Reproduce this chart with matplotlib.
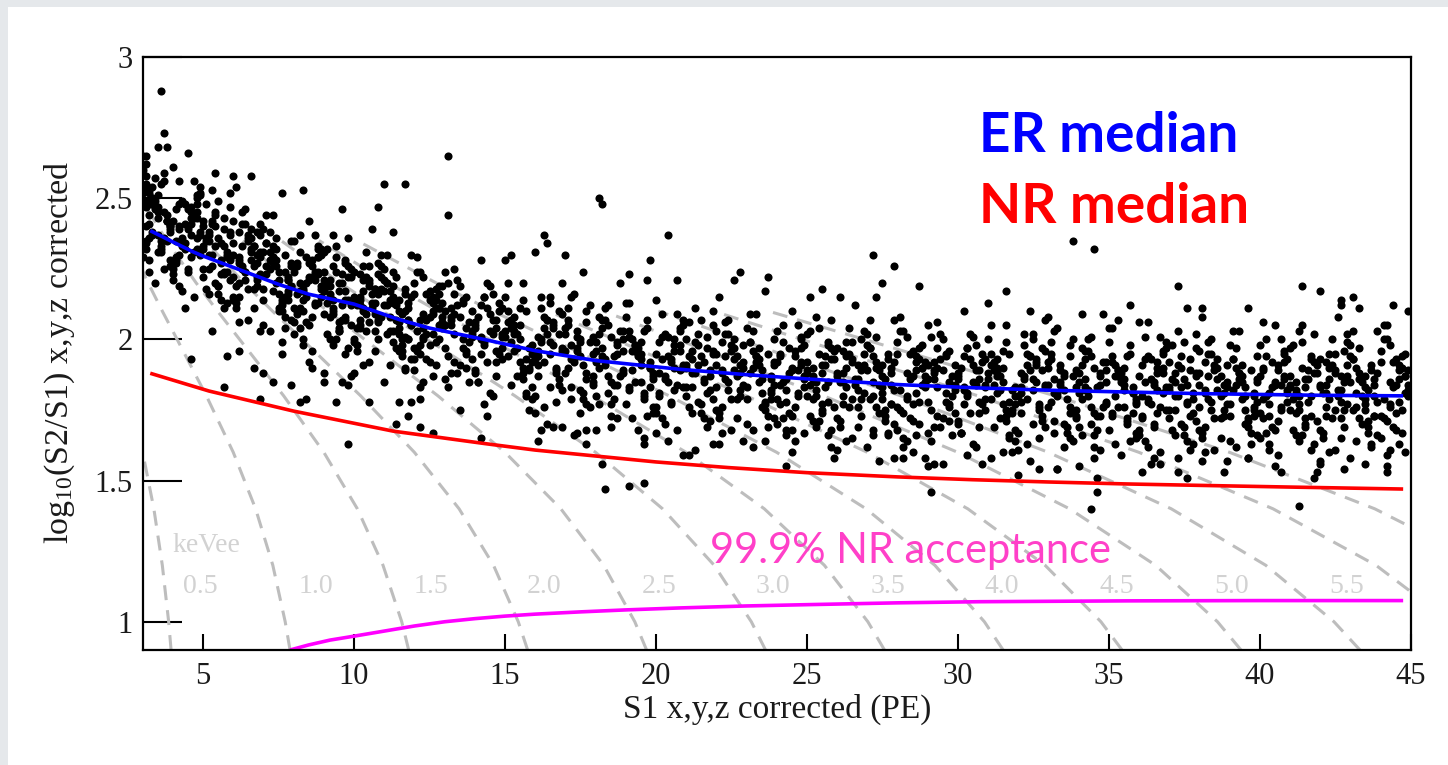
import matplotlib
matplotlib.use("Agg")
import matplotlib.pyplot as plt
from matplotlib.patches import Rectangle

plt.rcParams['font.family'] = ['Liberation Serif', 'DejaVu Serif']
plt.rcParams['mathtext.fontset'] = 'custom'
plt.rcParams['mathtext.rm'] = 'Liberation Serif'
plt.rcParams['mathtext.it'] = 'Liberation Serif:italic'
plt.rcParams['mathtext.bf'] = 'Liberation Serif:bold'

# ---------------- axis ticks ----------------
x_ticks = [5, 10, 15, 20, 25, 30, 35, 40, 45]
x_tick_labels = ['5', '10', '15', '20', '25', '30', '35', '40', '45']
y_ticks = [1, 1.5, 2, 2.5, 3]
y_tick_labels = ['1', '1.5', '2', '2.5', '3']

# ---------------- median / acceptance curves ----------------
er_median_s1 = [3.25, 4.0, 4.67, 5.0, 6.0, 6.5, 7.5, 8.5, 10.0, 11.5, 12.5, 14.3, 16.0, 18.0,
                20.8, 23.0, 25.0, 28.0, 30.7, 33.0, 35.0, 38.0, 40.0, 42.0, 44.75]
er_median_logratio = [2.385, 2.345, 2.31, 2.295, 2.255, 2.235, 2.195, 2.16, 2.125, 2.07, 2.04, 2.0,
                      1.96, 1.925, 1.894, 1.875, 1.86, 1.84, 1.828, 1.82, 1.815, 1.808, 1.805, 1.802, 1.80]

nr_median_s1 = [3.25, 5.2, 8.0, 11.3, 14.4, 16.0, 18.0, 20.0, 22.4, 25.0, 28.0, 30.5, 33.0, 35.6, 38.0, 41.0, 44.75]
nr_median_logratio = [1.88, 1.817, 1.746, 1.675, 1.630, 1.608, 1.587, 1.566, 1.546, 1.528, 1.513, 1.503,
                      1.495, 1.488, 1.483, 1.477, 1.470]

nr_accept_s1 = [7.88, 8.5, 9.2, 10.0, 11.0, 12.0, 13.0, 14.0, 15.0, 16.0, 17.5, 19.0, 20.8, 23.0,
                25.2, 28.0, 30.7, 35.6, 40.0, 44.75]
nr_accept_logratio = [0.90, 0.918, 0.935, 0.949, 0.967, 0.985, 1.0, 1.011, 1.02, 1.027, 1.035, 1.042,
                      1.049, 1.056, 1.061, 1.067, 1.071, 1.074, 1.075, 1.075]

# ---------------- constant-energy (keVee) contours ----------------
contour_logratio = [0.9, 1.0, 1.2, 1.4, 1.6, 1.8, 2.0, 2.1, 2.2, 2.35, 2.5]
contour_kevee = [0.5, 1.0, 1.5, 2.0, 2.5, 3.0, 3.5, 4.0, 4.5, 5.0, 5.5, 6.0, 6.5]
contour_s1 = [
    [3.94, 3.86, 3.65, 3.37, 3.00, 2.56, 2.07, None, None, None, None],
    [7.88, 7.72, 7.31, 6.74, 6.00, 5.11, 4.14, 3.65, 3.18, 2.53, None],
    [11.81, 11.58, 10.96, 10.11, 9.00, 7.67, 6.21, 5.48, 4.77, 3.79, 2.94],
    [15.75, 15.44, 14.62, 13.48, 12.00, 10.22, 8.28, 7.30, 6.36, 5.05, None],
    [19.69, 19.30, 18.27, 16.85, 15.00, 12.78, 10.35, 9.13, 7.95, 6.32, None],
    [23.63, 23.16, 21.93, 20.22, 18.00, 15.33, 12.42, 10.95, 9.54, 7.58, None],
    [27.57, 27.02, 25.58, 23.59, 21.00, 17.89, 14.49, 12.78, 11.13, 8.84, None],
    [31.50, 30.88, 29.24, 26.96, 24.00, 20.44, 16.56, 14.60, 12.72, 10.10, None],
    [35.44, 34.74, 32.89, 30.33, 27.00, 23.00, 18.63, 16.43, None, None, None],
    [39.38, 38.60, 36.55, 33.70, 30.00, 25.56, 20.70, 18.26, None, None, None],
    [43.32, 42.46, 40.20, 37.07, 33.00, 28.11, 22.76, 20.08, None, None, None],
    [47.26, 46.32, 43.85, 40.44, 36.00, 30.67, 24.83, 21.91, None, None, None],
    [51.19, 50.18, 47.51, 43.81, 39.00, 33.22, 26.90, 23.73, None, None, None],
]
label_kevee = ['0.5', '1.0', '1.5', '2.0', '2.5', '3.0', '3.5', '4.0', '4.5', '5.0', '5.5']
label_kevee_s1 = [4.90, 8.74, 12.55, 16.29, 20.10, 23.87, 27.68, 31.45, 35.26, 39.07, 42.88]

# ---------------- events: (S1 in 0.1 PE, log10(S2/S1) in 0.01) ----------------
events_low = [
    (31,234),(34,246),(37,256),(32,241),(39,226),(35,251),(30,265),(33,237),(38,244),(36,232),(32,248),(37,259),(34,220),(31,253),(39,239),(35,243),(33,250),(30,229),(36,255),(38,242),(32,224),(35,247),(37,273),(31,235),(34,249),(39,238),
    (46,237),(42,248),(49,230),(44,241),(40,223),(47,256),(43,234),(48,245),(41,227),(45,239),(49,252),(42,219),(46,243),(44,232),(40,261),(48,236),(43,249),(47,215),(41,246),(45,225),(42,240),(49,254),(46,229),(40,242),(44,211),(48,250),
    (56,227),(52,238),(59,247),(54,220),(50,232),(57,211),(53,241),(58,229),(51,236),(55,216),(59,252),(52,225),(56,234),(54,244),(50,222),(58,231),(53,203),(57,239),(51,218),(55,249),(52,230),(59,237),(56,214),(50,242),(54,233),(58,224),
    (66,236),(62,215),(69,229),(64,241),(60,222),(67,211),(63,233),(68,227),(61,254),(65,218),(69,231),(62,206),(66,239),(64,224),(60,234),(68,219),(63,245),(67,226),(61,213),(65,237),(62,228),(69,203),(66,232),(60,242),(64,221),(68,230),
    (76,213),(72,225),(79,235),(74,220),(70,205),(77,230),(73,244),(78,216),(71,223),(75,211),(79,227),(72,238),(76,199),(74,232),(70,218),(78,222),(73,229),(77,208),(71,234),(75,221),(72,203),(79,226),(76,252),(70,214),(74,228),(78,217),
    (83,218),(88,229),(80,211),(85,222),(82,204),(87,237),(89,215),(81,226),(86,208),(84,220),(88,233),(83,200),(80,224),(87,213),(85,242),(82,217),(89,230),(86,196),(81,227),(84,206),(87,221),(80,235),(83,210),(88,223),(85,192),(82,231),
    (93,211),(98,222),(90,231),(95,204),(92,216),(97,195),(99,225),(91,213),(96,220),(94,200),(98,236),(93,209),(90,218),(97,228),(95,206),(92,215),(99,187),(96,223),(91,202),(94,233),(97,214),(90,221),(93,198),(98,226),(95,217),(92,208),
    (103,221),(108,200),(100,214),(105,226),(102,207),(107,196),(109,218),(101,212),(106,239),(104,203),(108,216),(103,191),(100,224),(107,209),(105,219),(102,204),(109,230),(106,211),(101,198),(104,222),(107,213),(100,188),(103,217),(108,227),(105,206),(102,215),
    (113,199),(118,211),(110,221),(115,206),(112,191),(117,216),(119,230),(111,202),(116,209),(114,197),(118,213),(113,224),(110,185),(117,218),(115,204),(112,208),(119,215),(116,194),(111,220),(114,207),(117,189),(110,212),(113,238),(118,200),(115,214),(112,203),
    (128,205),(120,216),(125,198),(123,209),(127,191),(121,224),(126,202),(129,213),(122,195),(124,207),(120,220),(126,187),(128,211),(123,200),(121,229),(129,204),(125,217),(122,183),(127,214),(124,193),(129,208),(123,222),(120,197),(126,210),(122,179),(127,218),
    (138,199),(130,210),(135,219),(133,192),(137,204),(131,183),(136,213),(139,201),(132,208),(134,188),(130,224),(136,197),(138,206),(133,216),(131,194),(139,203),(135,175),(132,211),(137,190),(134,221),(139,202),(133,209),(130,186),(136,214),(132,205),(137,196),
    (148,210),(140,189),(145,203),(143,215),(147,196),(141,185),(146,207),(149,201),(142,228),(144,192),(140,205),(146,180),(148,213),(143,198),(141,208),(149,193),(145,219),(142,200),(147,187),(144,211),(149,202),(143,177),(140,206),(146,216),(142,195),(147,204),
]
events_dense_core = [
    (37,245),(33,238),(30,252),(35,231),(32,249),(38,242),(34,257),(36,235),(31,247),(39,240),(33,254),(37,236),
    (42,239),(48,232),(45,246),(40,225),(47,243),(43,236),(49,251),(41,229),(46,241),(44,234),(48,248),(42,230),
    (57,233),(53,226),(50,240),(55,219),(52,237),(58,230),(54,245),(56,223),(51,235),(59,228),(53,242),(57,224),
    (62,229),(68,222),(65,236),(60,215),(67,233),(63,226),(69,241),(61,219),(66,231),(64,224),(68,238),(62,220),
    (77,224),(73,217),(70,231),(75,210),(72,228),(78,221),(74,236),(76,214),(71,226),(79,219),(73,233),(77,215),
    (82,220),(88,213),(85,227),(80,206),(87,224),(83,217),(89,232),(81,210),(86,222),(84,215),(88,229),(82,211),
    (97,217),(93,210),(90,224),(95,203),(92,221),(98,214),(94,229),(96,207),(91,219),(99,212),(93,226),(97,208),
    (102,214),(108,207),(105,221),(100,200),(107,218),(103,211),(109,226),(101,204),(106,216),(104,209),(108,223),(102,205),
    (117,210),(113,203),(110,217),(115,196),(112,214),(118,207),(114,222),(116,200),(111,212),(119,205),(113,219),(117,201),
    (122,207),(128,200),(125,214),(120,193),(127,211),(123,204),(129,219),(121,197),(126,209),(124,202),(128,216),(122,198),
]
events_mid = [
    (158,189),(150,201),(155,211),(153,196),(157,181),(151,206),(156,220),(159,192),(152,199),(154,187),(150,203),(156,214),(158,175),(153,208),(151,194),(159,198),(155,205),(152,184),(157,210),(154,197),(159,179),(153,202),(150,228),(156,190),(152,204),(157,193),
    (161,196),(164,207),(167,189),(162,200),(169,182),(165,215),(160,193),(163,204),(168,186),(166,198),(162,211),(167,178),(164,202),(161,191),(169,220),(165,195),(163,208),(160,174),(166,205),(168,184),(162,199),(165,213),(167,188),(161,201),(164,170),(169,209),
    (171,190),(174,201),(177,210),(172,183),(179,195),(175,174),(170,204),(173,192),(178,199),(176,179),(172,215),(177,188),(174,197),(171,207),(179,185),(175,194),(173,166),(170,202),(176,181),(178,212),(172,193),(175,200),(177,177),(171,205),(174,196),(179,187),
    (181,202),(184,181),(187,195),(182,207),(189,188),(185,177),(180,199),(183,193),(188,220),(186,184),(182,197),(187,172),(184,205),(181,190),(189,200),(185,185),(183,211),(180,192),(186,179),(188,203),(182,194),(185,169),(187,198),(181,208),(184,187),(189,196),
    (191,182),(194,194),(197,204),(192,189),(199,174),(195,199),(190,213),(193,185),(198,192),(196,180),(192,196),(197,207),(194,168),(191,201),(199,187),(195,191),(193,198),(190,177),(196,203),(198,190),(192,172),(195,195),(197,221),(191,183),(194,197),(199,186),
    (206,190),(202,201),(209,183),(204,194),(200,176),(207,209),(203,187),(208,198),(201,180),(205,192),(209,205),(202,172),(206,196),(204,185),(200,214),(208,189),(203,202),(207,168),(201,199),(205,178),(202,193),(209,207),(206,182),(200,195),(204,164),(208,203),
    (216,185),(212,196),(219,205),(214,178),(210,190),(217,169),(213,199),(218,187),(211,194),(215,174),(219,210),(212,183),(216,192),(214,202),(210,180),(218,189),(213,161),(217,197),(211,176),(215,207),(212,188),(219,195),(216,172),(210,200),(214,191),(218,182),
    (226,197),(222,176),(229,190),(224,202),(220,183),(227,172),(223,194),(228,188),(221,215),(225,179),(229,192),(222,167),(226,200),(224,185),(220,195),(228,180),(223,206),(227,187),(221,174),(225,198),(222,189),(229,164),(226,193),(220,203),(224,182),(228,191),
    (236,178),(232,190),(239,200),(234,185),(230,170),(237,195),(233,209),(238,181),(231,188),(235,176),(239,192),(232,203),(236,164),(234,197),(230,183),(238,187),(233,194),(237,173),(231,199),(235,186),(232,168),(239,191),(236,217),(230,179),(234,193),(238,182),
    (243,186),(248,197),(240,179),(245,190),(242,172),(247,205),(249,183),(241,194),(246,176),(244,188),(248,201),(243,168),(240,192),(247,181),(245,210),(242,185),(249,198),(246,164),(241,195),(244,174),(247,189),(240,203),(243,178),(248,191),(245,160),(242,199),
    (253,182),(258,193),(250,202),(255,175),(252,187),(257,166),(259,196),(251,184),(256,191),(254,171),(258,207),(253,180),(250,189),(257,199),(255,177),(252,186),(259,158),(256,194),(251,173),(254,204),(257,185),(250,192),(253,169),(258,197),(255,188),(252,179),
    (263,194),(268,173),(260,187),(265,199),(262,180),(267,169),(269,191),(261,185),(266,212),(264,176),(268,189),(263,164),(260,197),(267,182),(265,192),(262,177),(269,203),(266,184),(261,171),(264,195),(267,186),(260,161),(263,190),(268,200),(265,179),(262,188),
    (273,176),(278,188),(270,198),(275,183),(272,168),(277,193),(279,207),(271,179),(276,186),(274,174),(278,190),(273,201),(270,162),(277,195),(275,181),(272,185),(279,192),(276,171),(271,197),(274,184),(277,166),(270,189),(273,215),(278,177),(275,191),(272,180),
    (288,184),(280,195),(285,177),(283,188),(287,170),(281,203),(286,181),(289,192),(282,174),(284,186),(280,199),(286,166),(288,190),(283,179),(281,208),(289,183),(285,196),(282,162),(287,193),(284,172),(289,187),(283,201),(280,176),(286,189),(282,158),(287,197),
    (298,180),(290,191),(295,200),(293,173),(297,185),(291,164),(296,194),(299,182),(292,189),(294,169),(290,205),(296,178),(298,187),(293,197),(291,175),(299,184),(295,156),(292,192),(297,171),(294,202),(299,183),(293,190),(290,167),(296,195),(292,186),(297,177),
]
events_high = [
    (308,192),(300,171),(305,185),(303,197),(307,178),(301,167),(306,189),(309,183),(302,210),(304,174),(300,187),(306,162),(308,195),(303,180),(301,190),(309,175),(305,201),(302,182),(307,169),(304,193),(309,184),(303,159),(300,188),(306,198),(302,177),(307,186),
    (318,174),(310,186),(315,196),(313,181),(317,166),(311,191),(316,205),(319,177),(312,184),(314,172),(310,188),(316,199),(318,160),(313,193),(311,179),(319,183),(315,190),(312,169),(317,195),(314,182),(319,164),(313,187),(310,213),(316,175),(312,189),(317,178),
    (321,183),(324,194),(327,176),(322,187),(329,169),(325,202),(320,180),(323,191),(328,173),(326,185),(322,198),(327,165),(324,189),(321,178),(329,207),(325,182),(323,195),(320,161),(326,192),(328,171),(322,186),(325,200),(327,175),(321,188),(324,157),(329,196),
    (331,178),(334,189),(337,198),(332,171),(339,183),(335,162),(330,192),(333,180),(338,187),(336,167),(332,203),(337,176),(334,185),(331,195),(339,173),(335,182),(333,154),(330,190),(336,169),(338,200),(332,181),(335,188),(337,165),(331,193),(334,184),(339,175),
    (341,191),(344,170),(347,184),(342,196),(349,177),(345,166),(340,188),(343,182),(348,209),(346,173),(342,186),(347,161),(344,194),(341,179),(349,189),(345,174),(343,200),(340,181),(346,168),(348,192),(342,183),(345,158),(347,187),(341,197),(344,176),(349,185),
    (351,173),(354,185),(357,195),(352,180),(359,165),(355,190),(350,204),(353,176),(358,183),(356,171),(352,187),(357,198),(354,159),(351,192),(359,178),(355,182),(353,189),(350,168),(356,194),(358,181),(352,163),(355,186),(357,212),(351,174),(354,188),(359,177),
    (366,182),(362,193),(369,175),(364,186),(360,168),(367,201),(363,179),(368,190),(361,172),(365,184),(369,197),(362,164),(366,188),(364,177),(360,206),(368,181),(363,194),(367,160),(361,191),(365,170),(362,185),(369,199),(366,174),(360,187),(364,156),(368,195),
    (376,177),(372,188),(379,197),(374,170),(370,182),(377,161),(373,191),(378,179),(371,186),(375,166),(379,202),(372,175),(376,184),(374,194),(370,172),(378,181),(373,153),(377,189),(371,168),(375,199),(372,180),(379,187),(376,164),(370,192),(374,183),(378,174),
    (386,190),(382,169),(389,183),(384,195),(380,176),(387,165),(383,187),(388,181),(381,208),(385,172),(389,185),(382,160),(386,193),(384,178),(380,188),(388,173),(383,199),(387,180),(381,167),(385,191),(382,182),(389,157),(386,186),(380,196),(384,175),(388,184),
    (396,172),(392,184),(399,194),(394,179),(390,164),(397,189),(393,203),(398,175),(391,182),(395,170),(399,186),(392,197),(396,158),(394,191),(390,177),(398,181),(393,188),(397,167),(391,193),(395,180),(392,162),(399,185),(396,211),(390,173),(394,187),(398,176),
    (403,181),(408,192),(400,174),(405,185),(402,167),(407,200),(409,178),(401,189),(406,171),(404,183),(408,196),(403,163),(400,187),(407,176),(405,205),(402,180),(409,193),(406,159),(401,190),(404,169),(407,184),(400,198),(403,173),(408,186),(405,155),(402,194),
    (413,177),(418,188),(410,197),(415,170),(412,182),(417,161),(419,191),(411,179),(416,186),(414,166),(418,202),(413,175),(410,184),(417,194),(415,172),(412,181),(419,153),(416,189),(411,168),(414,199),(417,180),(410,187),(413,164),(418,192),(415,183),(412,174),
    (423,190),(428,169),(420,183),(425,195),(422,176),(427,165),(429,187),(421,181),(426,208),(424,172),(428,185),(423,160),(420,193),(427,178),(425,188),(422,173),(429,199),(426,180),(421,167),(424,191),(427,182),(420,157),(423,186),(428,196),(425,175),(422,184),
    (433,172),(438,184),(430,194),(435,179),(432,164),(437,189),(439,203),(431,175),(436,182),(434,170),(438,186),(433,197),(430,158),(437,191),(435,177),(432,181),(439,188),(436,167),(431,193),(434,180),(437,162),(430,185),(433,211),(438,173),(435,187),(432,176),
    (448,181),(440,192),(445,174),(443,185),(447,167),(441,200),(446,178),(449,189),(442,171),(444,183),(440,196),(446,163),(448,187),(443,176),(441,205),(449,180),(445,193),(442,159),(447,190),(444,169),(449,184),(443,198),(440,173),(446,186),(442,155),(447,194),
]
events_extra = [
    (35,237),(31,255),(38,242),(33,250),(36,231),(30,260),(39,240),(34,247),(37,225),(32,252),(35,245),(38,235),(31,265),(36,233),(33,248),(39,228),
    (45,240),(41,228),(48,251),(43,233),(46,245),(40,221),(49,238),(44,248),(47,231),(42,256),(45,224),(48,243),(41,235),(46,247),(43,217),(49,237),
    (50,225),(57,243),(53,230),(59,238),(55,219),(51,248),(56,228),(52,235),(58,213),(54,240),(50,233),(57,223),(53,253),(59,221),(55,236),(52,216),
    (60,230),(67,218),(63,241),(69,223),(65,235),(61,211),(66,228),(62,238),(68,221),(64,246),(60,214),(67,233),(63,225),(69,237),(65,207),(62,227),
    (75,216),(71,234),(78,221),(73,229),(76,210),(70,239),(79,219),(74,226),(77,204),(72,231),(75,224),(78,214),(71,244),(76,212),(73,227),(79,207),
    (85,221),(81,209),(88,232),(83,214),(86,226),(80,202),(89,219),(84,229),(87,212),(82,237),(85,205),(88,224),(81,216),(86,228),(83,198),(89,218),
    (90,209),(97,227),(93,214),(99,222),(95,203),(91,232),(96,212),(92,219),(98,197),(94,224),(90,217),(97,207),(93,237),(99,205),(95,220),(92,200),
    (100,215),(107,203),(103,226),(109,208),(105,220),(101,196),(106,213),(102,223),(108,206),(104,231),(100,199),(107,218),(103,210),(109,222),(105,192),(102,212),
    (115,202),(111,220),(118,207),(113,215),(116,196),(110,225),(119,205),(114,212),(117,190),(112,217),(115,210),(118,200),(111,230),(116,198),(113,213),(119,193),
    (125,208),(121,196),(128,219),(123,201),(126,213),(120,189),(129,206),(124,216),(127,199),(122,224),(125,192),(128,211),(121,203),(126,215),(123,185),(129,205),
    (130,197),(137,215),(133,202),(139,210),(135,191),(131,220),(136,200),(132,207),(138,185),(134,212),(130,205),(137,195),(133,225),(139,193),(135,208),(132,188),
    (140,204),(147,192),(143,215),(149,197),(145,209),(141,185),(146,202),(142,212),(148,195),(144,220),(140,188),(147,207),(143,199),(149,211),(145,181),(142,201),
    (155,192),(151,210),(158,197),(153,205),(156,186),(150,215),(159,195),(154,202),(157,180),(152,207),(155,200),(158,190),(151,220),(156,188),(153,203),(159,183),
    (165,199),(161,187),(168,210),(163,192),(166,204),(160,180),(169,197),(164,207),(167,190),(162,215),(165,183),(168,202),(161,194),(166,206),(163,176),(169,196),
    (170,188),(177,206),(173,193),(179,201),(175,182),(171,211),(176,191),(172,198),(178,176),(174,203),(170,196),(177,186),(173,216),(179,184),(175,199),(172,179),
    (180,196),(187,184),(183,207),(189,189),(185,201),(181,177),(186,194),(182,204),(188,187),(184,212),(180,180),(187,199),(183,191),(189,203),(185,173),(182,193),
    (195,185),(191,203),(198,190),(193,198),(196,179),(190,208),(199,188),(194,195),(197,173),(192,200),(195,193),(198,183),(191,213),(196,181),(193,196),(199,176),
    (205,193),(201,181),(208,204),(203,186),(206,198),(200,174),(209,191),(204,201),(207,184),(202,209),(205,177),(208,196),(201,188),(206,200),(203,170),(209,190),
    (210,183),(217,201),(213,188),(219,196),(215,177),(211,206),(216,186),(212,193),(218,171),(214,198),(210,191),(217,181),(213,211),(219,179),(215,194),(212,174),
    (220,191),(227,179),(223,202),(229,184),(225,196),(221,172),(226,189),(222,199),(228,182),(224,207),(220,175),(227,194),(223,186),(229,198),(225,168),(222,188),
    (235,181),(231,199),(238,186),(233,194),(236,175),(230,204),(239,184),(234,191),(237,169),(232,196),(235,189),(238,179),(231,209),(236,177),(233,192),(239,172),
    (245,189),(241,177),(248,200),(243,182),(246,194),(240,170),(249,187),(244,197),(247,180),(242,205),(245,173),(248,192),(241,184),(246,196),(243,166),(249,186),
    (250,180),(257,198),(253,185),(259,193),(255,174),(251,203),(256,183),(252,190),(258,168),(254,195),(250,188),(257,178),(253,208),(259,176),(255,191),(252,171),
    (260,188),(267,176),(263,199),(269,181),(265,193),(261,169),(266,186),(262,196),(268,179),(264,204),(260,172),(267,191),(263,183),(269,195),(265,165),(262,185),
    (275,179),(271,197),(278,184),(273,192),(276,173),(270,202),(279,182),(274,189),(277,167),(272,194),(275,187),(278,177),(271,207),(276,175),(273,190),(279,170),
    (285,187),(281,175),(288,198),(283,180),(286,192),(280,168),(289,185),(284,195),(287,178),(282,203),(285,171),(288,190),(281,182),(286,194),(283,164),(289,184),
    (290,178),(297,196),(293,183),(299,191),(295,172),(291,201),(296,181),(292,188),(298,166),(294,193),(290,186),(297,176),(293,206),(299,174),(295,189),(292,169),
    (300,186),(307,174),(303,197),(309,179),(305,191),(301,167),(306,184),(302,194),(308,177),(304,202),(300,170),(307,189),(303,181),(309,193),(305,163),(302,183),
    (315,177),(311,195),(318,182),(313,190),(316,171),(310,200),(319,180),(314,187),(317,165),(312,192),(315,185),(318,175),(311,205),(316,173),(313,188),(319,168),
    (325,186),(321,174),(328,197),(323,179),(326,191),(320,167),(329,184),(324,194),(327,177),(322,202),(325,170),(328,189),(321,181),(326,193),(323,163),(329,183),
    (330,176),(337,194),(333,181),(339,189),(335,170),(331,199),(336,179),(332,186),(338,164),(334,191),(330,184),(337,174),(333,204),(339,172),(335,187),(332,167),
    (340,185),(347,173),(343,196),(349,178),(345,190),(341,166),(346,183),(342,193),(348,176),(344,201),(340,169),(347,188),(343,180),(349,192),(345,162),(342,182),
    (355,176),(351,194),(358,181),(353,189),(356,170),(350,199),(359,179),(354,186),(357,164),(352,191),(355,184),(358,174),(351,204),(356,172),(353,187),(359,167),
    (365,185),(361,173),(368,196),(363,178),(366,190),(360,166),(369,183),(364,193),(367,176),(362,201),(365,169),(368,188),(361,180),(366,192),(363,162),(369,182),
    (370,175),(377,193),(373,180),(379,188),(375,169),(371,198),(376,178),(372,185),(378,163),(374,190),(370,183),(377,173),(373,203),(379,171),(375,186),(372,166),
    (380,184),(387,172),(383,195),(389,177),(385,189),(381,165),(386,182),(382,192),(388,175),(384,200),(380,168),(387,187),(383,179),(389,191),(385,161),(382,181),
    (395,175),(391,193),(398,180),(393,188),(396,169),(390,198),(399,178),(394,185),(397,163),(392,190),(395,183),(398,173),(391,203),(396,171),(393,186),(399,166),
    (405,184),(401,172),(408,195),(403,177),(406,189),(400,165),(409,182),(404,192),(407,175),(402,200),(405,168),(408,187),(401,179),(406,191),(403,161),(409,181),
    (410,175),(417,193),(413,180),(419,188),(415,169),(411,198),(416,178),(412,185),(418,163),(414,190),(410,183),(417,173),(413,203),(419,171),(415,186),(412,166),
    (420,184),(427,172),(423,195),(429,177),(425,189),(421,165),(426,182),(422,192),(428,175),(424,200),(420,168),(427,187),(423,179),(429,191),(425,161),(422,181),
    (435,175),(431,193),(438,180),(433,188),(436,169),(430,198),(439,178),(434,185),(437,163),(432,190),(435,183),(438,173),(431,203),(436,171),(433,186),(439,166),
    (445,184),(441,172),(448,195),(443,177),(446,189),(440,165),(449,182),(444,192),(447,175),(442,200),(445,168),(448,187),(441,179),(446,191),(443,161),(449,181),
]
events_tails = [
    (36,288),(35,268),(38,268),(45,266),(131,265),(110,255),(117,255),(83,253),(54,259),(60,258),(66,258),(108,247),(131,244),(96,246),
    (181,250),(182,248),(163,237),(204,237),(164,234),(160,231),(152,230),(170,230),(198,228),(272,230),(279,226),(287,219),(275,220),
    (228,224),(237,222),(226,221),(207,221),(176,224),(191,223),(255,218),(261,215),(251,215),(338,235),(345,232),(316,217),(373,219),
    (414,219),(420,217),(431,215),(427,214),(427,212),(444,212),(449,210),(324,210),(330,208),(341,209),(353,207),(363,206),(376,211),
    (381,211),(401,206),(414,205),(442,205),(429,202),
    (31,262),(31,258),(32,253),(31,249),(32,244),(31,240),(32,236),(31,232),(32,228),
    (98,163),(57,183),(46,193),(69,179),(82,178),(84,179),(94,178),(114,170),(118,173),(122,169),(126,167),(142,165),(144,173),(73,185),
    (79,184),(90,185),(96,185),(98,184),(105,178),(115,178),(119,178),(58,194),(62,196),(67,190),(70,188),(76,195),(86,190),(90,188),
    (183,147),(191,148),(196,149),(182,156),(209,159),(211,159),(196,163),(196,165),(177,163),(161,164),(162,168),(166,169),(169,169),
    (174,167),(177,168),(180,168),(200,167),(221,163),(219,163),(232,162),(243,155),(258,162),(245,168),(249,167),(274,157),(279,158),
    (285,160),(289,158),(290,155),(292,156),(291,146),(272,166),(282,165),(301,167),
    (344,140),(346,146),(346,151),(413,141),(320,152),(327,154),(333,154),(308,156),(311,158),(315,160),(361,153),(376,151),(388,153),
    (407,153),(418,151),(428,154),(442,153),(435,156),(420,156),(340,155),(365,158),(367,156),(373,158),(381,157),(396,158),(448,160),
]

# ---------------- figure ----------------
W, H = 1448, 765
fig = plt.figure(figsize=(W / 100, H / 100), dpi=100)
fig.patch.set_facecolor('#e5e8eb')
fig.add_artist(Rectangle((8 / W, 0), 1, (H - 7) / H, transform=fig.transFigure,
                         facecolor='white', edgecolor='none', zorder=-10))

ax = fig.add_axes([142.7 / W, (H - 650) / H, (1410.7 - 142.7) / W, (650 - 57) / H])
ax.set_facecolor('white')
ax.set_xlim(3, 45)
ax.set_ylim(0.9, 3.0)

# contours
for row in contour_s1:
    pts = [(s, r) for s, r in zip(row, contour_logratio) if s is not None]
    ax.plot([p[0] for p in pts], [p[1] for p in pts], color='#bdbdbd', lw=2.2,
            dashes=(4.9, 3.3), zorder=2, solid_capstyle='butt', dash_capstyle='butt')

# events
all_events = (events_low + events_dense_core + events_mid + events_high + events_extra
              + events_tails)
ax.scatter([e[0] / 10 for e in all_events], [e[1] / 100 for e in all_events],
           s=34, c='black', linewidths=0, zorder=3)

# curves
ax.plot(er_median_s1, er_median_logratio, color='#0000ff', lw=2.6, zorder=4, solid_capstyle='butt')
ax.plot(nr_median_s1, nr_median_logratio, color='#ff0000', lw=2.6, zorder=4, solid_capstyle='butt')
ax.plot(nr_accept_s1, nr_accept_logratio, color='#ff00ff', lw=2.6, zorder=4, solid_capstyle='butt')

# contour labels
for lab, s in zip(label_kevee, label_kevee_s1):
    ax.text(s, 1.102, lab, color='#d2d2d2', fontsize=20, ha='center', va='baseline', zorder=5)
ax.text(4.0, 1.247, 'keVee', color='#d2d2d2', fontsize=20, ha='left', va='baseline', zorder=5)

# annotations
ax.text(30.70, 2.663, 'ER median', color='#0000ff', fontsize=39.5, fontweight='bold',
        family=['Lato', 'DejaVu Sans'], ha='left', va='baseline', zorder=6)
ax.text(30.70, 2.412, 'NR median', color='#ff0000', fontsize=39.5, fontweight='bold',
        family=['Lato', 'DejaVu Sans'], ha='left', va='baseline', zorder=6)
ax.text(21.79, 1.208, '99.9% NR acceptance', color='#ff40c8', fontsize=30,
        family=['Lato', 'DejaVu Sans'], ha='left', va='baseline', zorder=6)

# axes styling
for sp in ax.spines.values():
    sp.set_linewidth(1.6)
    sp.set_color('black')
    sp.set_zorder(7)
ax.set_xticks(x_ticks)
ax.set_xticklabels(x_tick_labels)
ax.set_yticks(y_ticks)
ax.set_yticklabels(y_tick_labels)
ax.tick_params(axis='x', direction='in', length=11.5, width=1.5, pad=9, labelsize=22,
               top=False, labelcolor='#1a1a1a')
ax.tick_params(axis='y', direction='in', length=28, width=1.5, pad=7, labelsize=22,
               right=False, labelcolor='#1a1a1a')

fig.text(777 / W, 1 - 709 / H, 'S1 x,y,z corrected (PE)', fontsize=24, ha='center', va='center',
         color='#1a1a1a')
fig.text(60 / W, 1 - 352 / H, 'log$_{10}$(S2/S1) x,y,z corrected', fontsize=24.5, ha='center',
         va='center', rotation=90, color='#1a1a1a')

fig.savefig('out.png', dpi=100)
